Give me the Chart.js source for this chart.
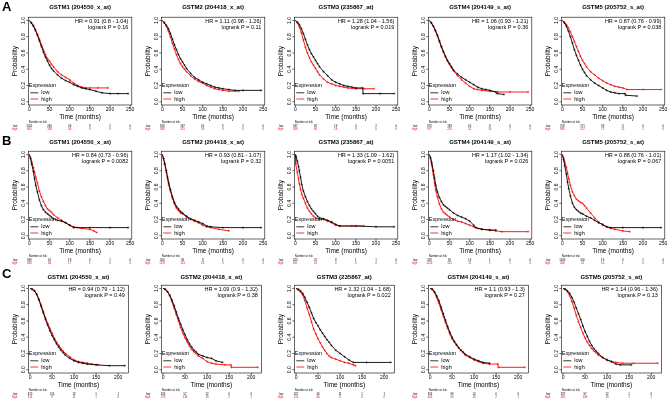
<!DOCTYPE html>
<html>
<head>
<meta charset="utf-8">
<script src="https://cdn.jsdelivr.net/npm/chart.js@4.4.0/dist/chart.umd.min.js"></script>
<style>
  body { margin: 0; background: #fff; }
  #wrap { position: relative; width: 670px; height: 401px; overflow: hidden; }
  .panel { position: absolute; width: 137px; height: 132px; }
  .tag { position: absolute; font: bold 13px "Liberation Sans", Arial, sans-serif; line-height: 13px; z-index: 2; }
</style>
</head>
<body>
<div id="wrap">
  <div class="tag" style="left:2px;top:0px">A</div>
  <div class="tag" style="left:2px;top:134px">B</div>
  <div class="tag" style="left:2px;top:267px">C</div>
</div>
<script>
// Titles / stats
const genes = ["GSTM1 (204550_x_at)", "GSTM2 (204418_x_at)", "GSTM3 (235867_at)", "GSTM4 (204149_s_at)", "GSTM5 (205752_s_at)"];
const hrA = ["HR = 0.91 (0.8 - 1.04)", "HR = 1.11 (0.98 - 1.26)", "HR = 1.28 (1.04 - 1.56)", "HR = 1.06 (0.93 - 1.21)", "HR = 0.87 (0.76 - 0.99)"];
const pA = ["logrank P = 0.16", "logrank P = 0.11", "logrank P = 0.019", "logrank P = 0.36", "logrank P = 0.038"];
const hrB = ["HR = 0.84 (0.73 - 0.96)", "HR = 0.93 (0.81 - 1.07)", "HR = 1.33 (1.09 - 1.62)", "HR = 1.17 (1.02 - 1.34)", "HR = 0.88 (0.76 - 1.01)"];
const pB = ["logrank P = 0.0082", "logrank P = 0.32", "logrank P = 0.0051", "logrank P = 0.026", "logrank P = 0.067"];
const hrC = ["HR = 0.94 (0.79 - 1.12)", "HR = 1.09 (0.9 - 1.32)", "HR = 1.32 (1.04 - 1.68)", "HR = 1.1 (0.93 - 1.3)", "HR = 1.14 (0.96 - 1.36)"];
const pC = ["logrank P = 0.49", "logrank P = 0.38", "logrank P = 0.022", "logrank P = 0.27", "logrank P = 0.13"];

// Ticks
const xTicksAB = [0, 50, 100, 150, 200, 250];
const xTicksC = [0, 50, 100, 150, 200];
const yTicks = [0, 0.2, 0.4, 0.6, 0.8, 1.0];

// Number at risk
const riskLowA = [[1051, 240, 49, 9, 2, 0], [818, 187, 41, 9, 2, 0], [347, 82, 19, 4, 2, 0], [679, 183, 45, 8, 0, 0], [758, 171, 33, 3, 0, 0]];
const riskHighA = [[605, 188, 48, 9, 0, 0], [838, 231, 56, 9, 0, 0], [308, 60, 29, 3, 0, 0], [977, 235, 52, 10, 2, 0], [898, 257, 75, 15, 2, 0]];
const riskLowB = [[949, 61, 18, 3, 1, 0], [300, 39, 8, 1, 0, 0], [423, 31, 8, 1, 1, 0], [318, 65, 13, 1, 0, 0], [1269, 100, 19, 3, 1, 0]];
const riskHighB = [[588, 86, 17, 1, 0, 0], [1237, 123, 23, 3, 1, 0], [161, 16, 4, 0, 0, 0], [1219, 121, 11, 1, 1, 0], [268, 51, 10, 1, 0, 0]];
const riskLowC = [[470, 116, 19, 1, 1], [209, 57, 12, 0, 0], [167, 46, 11, 1, 1], [356, 99, 14, 0, 0], [297, 97, 12, 1, 0]];
const riskHighC = [[311, 77, 11, 1, 0], [573, 136, 18, 2, 1], [215, 46, 8, 0, 0], [426, 94, 16, 2, 1], [485, 106, 18, 1, 1]];

// Survival curves [months, probability]
const lowA1 = [[0,1],[5,.97],[10,.93],[15,.88],[20,.82],[25,.75],[30,.68],[35,.61],[40,.55],[45,.5],[50,.45],[55,.41],[60,.38],[70,.33],[80,.29],[90,.26],[100,.24],[110,.21],[120,.19],[130,.17],[140,.16],[150,.15],[165,.13],[180,.11],[200,.1],[220,.1],[245,.1]];
const highA1 = [[0,1],[5,.97],[10,.94],[15,.89],[20,.83],[25,.77],[30,.7],[35,.64],[40,.58],[45,.53],[50,.5],[55,.46],[60,.43],[70,.37],[80,.33],[90,.3],[100,.27],[110,.23],[120,.2],[130,.18],[140,.17],[150,.17],[170,.17],[195,.17]];
const lowA2 = [[0,1],[5,.97],[10,.94],[15,.9],[20,.84],[25,.77],[30,.7],[35,.64],[40,.58],[45,.53],[50,.49],[55,.45],[60,.41],[70,.35],[80,.3],[90,.27],[100,.24],[110,.22],[120,.2],[130,.18],[140,.17],[150,.16],[165,.15],[180,.14],[200,.14],[245,.14]];
const highA2 = [[0,1],[5,.97],[10,.93],[15,.87],[20,.8],[25,.72],[30,.65],[35,.58],[40,.52],[45,.47],[50,.43],[55,.4],[60,.37],[70,.32],[80,.28],[90,.25],[100,.23],[110,.2],[120,.18],[130,.16],[140,.15],[150,.14],[165,.13],[190,.13]];
const lowA3 = [[0,1],[5,.98],[10,.95],[15,.9],[20,.84],[25,.77],[30,.7],[35,.64],[40,.59],[45,.55],[50,.51],[55,.47],[60,.43],[70,.37],[80,.32],[90,.27],[100,.24],[110,.22],[120,.2],[130,.19],[140,.18],[150,.17],[167,.17],[168,.1],[210,.1],[245,.1]];
const highA3 = [[0,1],[5,.97],[10,.92],[15,.85],[20,.76],[25,.67],[30,.6],[35,.54],[40,.49],[45,.45],[50,.41],[55,.37],[60,.33],[70,.28],[80,.24],[90,.22],[100,.2],[110,.19],[120,.18],[130,.17],[150,.16],[170,.16],[195,.16]];
const lowA4 = [[0,1],[5,.97],[10,.93],[15,.88],[20,.82],[25,.75],[30,.68],[35,.62],[40,.56],[45,.51],[50,.47],[55,.43],[60,.39],[70,.34],[80,.3],[90,.27],[100,.24],[110,.21],[120,.18],[130,.16],[140,.15],[150,.14],[165,.12],[168,.1],[185,.09]];
const highA4 = [[0,1],[5,.97],[10,.93],[15,.87],[20,.81],[25,.74],[30,.67],[35,.61],[40,.55],[45,.5],[50,.46],[55,.42],[60,.38],[70,.32],[80,.27],[90,.23],[100,.19],[110,.16],[120,.15],[130,.14],[150,.13],[170,.12],[200,.12],[245,.12]];
const lowA5 = [[0,1],[5,.97],[10,.93],[15,.87],[20,.8],[25,.72],[30,.64],[35,.57],[40,.51],[45,.45],[50,.4],[55,.36],[60,.32],[70,.27],[80,.23],[90,.2],[100,.17],[110,.14],[120,.12],[130,.11],[140,.1],[155,.1],[157,.08],[185,.07]];
const highA5 = [[0,1],[5,.98],[10,.95],[15,.91],[20,.86],[25,.8],[30,.74],[35,.68],[40,.62],[45,.56],[50,.51],[55,.47],[60,.43],[70,.37],[80,.33],[90,.29],[100,.26],[110,.23],[120,.21],[130,.19],[140,.18],[150,.17],[160,.15],[200,.15],[245,.15]];

const lowB1 = [[0,1],[3,.95],[6,.88],[10,.79],[13,.7],[16,.62],[20,.54],[25,.44],[30,.37],[35,.32],[40,.29],[45,.27],[50,.25],[55,.23],[60,.21],[70,.19],[80,.18],[90,.16],[100,.13],[110,.1],[150,.1],[200,.1],[245,.1]];
const highB1 = [[0,1],[3,.96],[6,.91],[10,.84],[13,.78],[16,.72],[20,.65],[25,.55],[30,.48],[35,.42],[40,.37],[45,.33],[50,.31],[55,.29],[60,.26],[70,.22],[80,.19],[90,.16],[100,.13],[110,.11],[120,.1],[130,.09],[150,.08],[160,.06],[167,.04]];
const lowB2 = [[0,1],[3,.95],[6,.89],[10,.8],[13,.72],[16,.65],[20,.57],[25,.48],[30,.41],[35,.36],[40,.33],[45,.3],[50,.28],[60,.24],[70,.21],[80,.19],[90,.17],[100,.15],[110,.12],[120,.11],[150,.1],[200,.1],[245,.1]];
const highB2 = [[0,1],[3,.95],[6,.88],[10,.78],[13,.7],[16,.62],[20,.55],[25,.46],[30,.39],[35,.34],[40,.31],[45,.28],[50,.27],[60,.23],[70,.2],[80,.18],[90,.16],[100,.13],[110,.11],[120,.1],[140,.08],[165,.06]];
const lowB3 = [[0,1],[2,.97],[5,.92],[8,.85],[10,.8],[13,.72],[16,.63],[20,.55],[25,.48],[30,.42],[35,.37],[40,.33],[45,.3],[50,.27],[55,.24],[60,.22],[70,.21],[80,.19],[90,.17],[100,.14],[110,.12],[150,.12],[200,.11],[245,.11]];
const highB3 = [[0,1],[1,.88],[5,.78],[8,.7],[10,.64],[13,.57],[16,.51],[20,.46],[25,.4],[30,.34],[35,.3],[40,.27],[45,.24],[50,.22],[60,.2],[70,.2],[80,.18],[90,.16],[100,.13],[110,.12],[140,.12],[170,.12]];
const lowB4 = [[0,1],[3,.96],[6,.9],[10,.8],[13,.71],[16,.62],[20,.54],[25,.47],[30,.42],[35,.38],[40,.36],[45,.34],[50,.32],[60,.28],[70,.25],[80,.23],[90,.21],[100,.18],[110,.13],[115,.1],[130,.08],[150,.07],[165,.07]];
const highB4 = [[0,1],[3,.95],[6,.87],[10,.75],[13,.65],[16,.56],[20,.48],[25,.39],[30,.33],[35,.29],[40,.27],[45,.25],[50,.23],[60,.2],[70,.18],[80,.17],[90,.15],[100,.13],[110,.11],[120,.09],[130,.08],[150,.07],[165,.06],[180,.05],[245,.05]];
const lowB5 = [[0,1],[3,.94],[6,.86],[10,.76],[13,.66],[16,.58],[20,.49],[25,.4],[30,.35],[35,.32],[40,.3],[45,.28],[50,.27],[60,.24],[70,.22],[80,.19],[90,.16],[100,.14],[110,.11],[120,.1],[150,.1],[200,.1],[245,.1]];
const highB5 = [[0,1],[3,.96],[6,.91],[10,.84],[13,.77],[16,.7],[20,.62],[25,.54],[30,.49],[35,.45],[40,.43],[45,.41],[50,.4],[55,.37],[60,.34],[70,.28],[80,.22],[90,.17],[100,.13],[110,.11],[120,.09],[130,.08],[150,.06],[167,.05]];

const lowC1 = [[0,1],[5,.99],[10,.97],[15,.93],[20,.86],[25,.78],[30,.7],[35,.62],[40,.55],[45,.48],[50,.42],[55,.37],[60,.32],[65,.28],[70,.24],[75,.21],[80,.18],[90,.14],[100,.11],[110,.09],[120,.08],[130,.07],[150,.06],[180,.05],[215,.05]];
const highC1 = [[0,1],[5,.99],[10,.97],[15,.93],[20,.87],[25,.8],[30,.72],[35,.64],[40,.57],[45,.51],[50,.45],[55,.39],[60,.34],[65,.3],[70,.26],[75,.23],[80,.2],[90,.16],[100,.12],[110,.1],[120,.09],[130,.08],[140,.07],[155,.06]];
const lowC2 = [[0,1],[5,.99],[10,.96],[15,.92],[20,.86],[25,.79],[30,.71],[35,.63],[40,.56],[45,.49],[50,.43],[55,.37],[60,.32],[65,.28],[70,.24],[75,.22],[80,.19],[90,.17],[100,.15],[110,.14],[120,.11],[135,.09]];
const highC2 = [[0,1],[5,.99],[10,.96],[15,.91],[20,.84],[25,.76],[30,.68],[35,.6],[40,.52],[45,.45],[50,.39],[55,.34],[60,.29],[65,.25],[70,.22],[75,.2],[80,.17],[90,.14],[100,.1],[110,.08],[120,.07],[140,.06],[154,.06],[155,.03],[215,.03]];
const lowC3 = [[0,1],[5,.99],[10,.97],[15,.94],[20,.89],[25,.83],[30,.77],[35,.7],[40,.63],[45,.58],[50,.54],[55,.49],[60,.45],[65,.41],[70,.37],[75,.34],[80,.3],[90,.24],[100,.2],[110,.16],[120,.12],[130,.09],[160,.09],[215,.09]];
const highC3 = [[0,1],[5,.98],[10,.96],[15,.92],[20,.85],[25,.76],[30,.68],[35,.59],[40,.5],[45,.44],[50,.38],[55,.33],[60,.28],[65,.24],[70,.2],[75,.17],[80,.15],[90,.13],[100,.11],[110,.09],[120,.08],[130,.06],[135,.05]];
const lowC4 = [[0,1],[5,.99],[10,.96],[15,.91],[20,.85],[25,.77],[30,.69],[35,.61],[40,.53],[45,.46],[50,.4],[55,.35],[60,.31],[65,.27],[70,.24],[75,.22],[80,.19],[90,.16],[100,.13],[110,.11],[120,.09],[135,.08]];
const highC4 = [[0,1],[5,.99],[10,.95],[15,.89],[20,.82],[25,.74],[30,.66],[35,.58],[40,.51],[45,.44],[50,.38],[55,.34],[60,.3],[65,.27],[70,.24],[75,.21],[80,.18],[90,.15],[100,.12],[110,.1],[120,.08],[135,.07],[154,.07],[155,.03],[215,.03]];
const lowC5 = [[0,1],[5,.99],[10,.97],[15,.94],[20,.89],[25,.83],[30,.76],[35,.69],[40,.62],[45,.54],[50,.47],[55,.41],[60,.35],[65,.3],[70,.26],[75,.23],[80,.2],[90,.15],[100,.12],[110,.1],[120,.07],[130,.06],[155,.06]];
const highC5 = [[0,1],[5,.99],[10,.96],[15,.91],[20,.84],[25,.76],[30,.67],[35,.59],[40,.52],[45,.45],[50,.39],[55,.34],[60,.3],[65,.26],[70,.23],[75,.21],[80,.18],[90,.15],[100,.12],[110,.1],[120,.09],[135,.08],[160,.08],[215,.08]];

const FONT = '"Liberation Sans", Arial, sans-serif';
const colLeft = [0, 133, 266, 400, 533];

const rows = [
  { top: 0,   titlePad: [3.3, 6.7], xMin: -2.5, xMax: 254, boxW: 103.5, xTicks: xTicksAB, hr: hrA, p: pA, rl: riskLowA, rh: riskHighA,
    curves: [[lowA1, highA1], [lowA2, highA2], [lowA3, highA3], [lowA4, highA4], [lowA5, highA5]] },
  { top: 134, titlePad: [5.0, 5.0], xMin: -2.5, xMax: 254, boxW: 103.5, xTicks: xTicksAB, hr: hrB, p: pB, rl: riskLowB, rh: riskHighB,
    curves: [[lowB1, highB1], [lowB2, highB2], [lowB3, highB3], [lowB4, highB4], [lowB5, highB5]] },
  { top: 268, titlePad: [5.8, 4.2], xMin: -4, xMax: 223, boxW: 100, xTicks: xTicksC, hr: hrC, p: pC, rl: riskLowC, rh: riskHighC,
    curves: [[lowC1, highC1], [lowC2, highC2], [lowC3, highC3], [lowC4, highC4], [lowC5, highC5]] }
];

// draws the R-style box, axes, stats text, legend and risk table
const kmDecor = {
  id: 'kmDecor',
  afterDraw(chart, args, o) {
    const { ctx, chartArea: a, scales: { x, y } } = chart;
    ctx.save();
    ctx.strokeStyle = '#000';
    ctx.fillStyle = '#000';
    ctx.lineWidth = 0.6;
    ctx.strokeRect(a.left, a.top, a.right - a.left, a.bottom - a.top);

    // x axis
    ctx.font = '5px ' + FONT;
    ctx.textAlign = 'center';
    ctx.textBaseline = 'middle';
    o.xTicks.forEach(v => {
      const px = x.getPixelForValue(v);
      ctx.beginPath(); ctx.moveTo(px, a.bottom); ctx.lineTo(px, a.bottom + 2); ctx.stroke();
      ctx.fillText(String(v), px, 109.5);
    });
    // y axis, labels rotated like R
    yTicks.forEach(v => {
      const py = y.getPixelForValue(v);
      ctx.beginPath(); ctx.moveTo(a.left - 2, py); ctx.lineTo(a.left, py); ctx.stroke();
      ctx.save();
      ctx.translate(a.left - 5, py);
      ctx.rotate(-Math.PI / 2);
      ctx.fillText(v.toFixed(1), 0, 0);
      ctx.restore();
    });
    ctx.font = '6.5px ' + FONT;
    ctx.fillText('Time (months)', (a.left + a.right) / 2, 117.5);
    ctx.save();
    ctx.translate(a.left - 13, (a.top + a.bottom) / 2);
    ctx.rotate(-Math.PI / 2);
    ctx.fillText('Probability', 0, 0);
    ctx.restore();

    // HR + logrank
    ctx.font = '5.5px ' + FONT;
    ctx.textAlign = 'right';
    ctx.fillText(o.hr, a.right - 3.5, a.top + 4);
    ctx.fillText(o.p, a.right - 3.5, a.top + 10);

    // legend
    ctx.textAlign = 'left';
    ctx.fillText('Expression', a.left + 0.5, a.bottom - 19.3);
    [['low', '#000', 12.2], ['high', '#ff0000', 6]].forEach(([t, c, d]) => {
      ctx.strokeStyle = c;
      ctx.lineWidth = 0.8;
      ctx.beginPath(); ctx.moveTo(a.left + 2, a.bottom - d); ctx.lineTo(a.left + 10, a.bottom - d); ctx.stroke();
      ctx.fillStyle = '#000';
      ctx.fillText(t, a.left + 13, a.bottom - d);
    });

    // number at risk
    ctx.font = '2.8px ' + FONT;
    ctx.fillStyle = '#000';
    ctx.fillText('Number at risk', a.left + 0.5, 122);
    ctx.textAlign = 'right';
    ctx.fillText('low', a.left - 11, 126);
    ctx.fillStyle = '#ff0000';
    ctx.fillText('high', a.left - 11, 129.5);
    ctx.textAlign = 'center';
    o.xTicks.forEach((v, i) => {
      const px = x.getPixelForValue(v);
      ctx.fillStyle = '#000';
      ctx.fillText(String(o.low[i]), px, 126);
      ctx.fillStyle = '#ff0000';
      ctx.fillText(String(o.high[i]), px, 129.5);
    });
    ctx.restore();
  }
};

function curve(pts, color) {
  return {
    data: pts.map(p => ({ x: p[0], y: p[1] })),
    borderColor: color,
    backgroundColor: color,
    borderWidth: 0.9,
    tension: 0,
    fill: false,
    pointStyle: 'cross',
    pointRadius: c => (c.dataIndex === 0 ? 0 : 1.2),
    pointBorderColor: color,
    pointBorderWidth: 0.5
  };
}

const wrap = document.getElementById('wrap');
rows.forEach(r => {
  genes.forEach((g, i) => {
    const div = document.createElement('div');
    div.className = 'panel';
    div.style.left = colLeft[i] + 'px';
    div.style.top = r.top + 'px';
    const cv = document.createElement('canvas');
    cv.width = 137; cv.height = 132;
    div.appendChild(cv);
    wrap.appendChild(div);

    new Chart(cv, {
      type: 'line',
      data: { datasets: [curve(r.curves[i][0], '#000000'), curve(r.curves[i][1], '#ff0000')] },
      options: {
        responsive: false,
        animation: false,
        events: [],
        layout: { padding: { left: 28.3, right: 137 - 28.3 - r.boxW, top: 0, bottom: 132 - 105 } },
        scales: {
          x: { type: 'linear', display: false, min: r.xMin, max: r.xMax },
          y: { type: 'linear', display: false, min: -0.04, max: 1.04 }
        },
        plugins: {
          legend: { display: false },
          tooltip: { enabled: false },
          title: {
            display: true, text: g, color: '#000',
            font: { family: FONT, size: 6, weight: 'bold', lineHeight: 1.2 },
            padding: { top: r.titlePad[0], bottom: r.titlePad[1] }
          },
          kmDecor: { xTicks: r.xTicks, hr: r.hr[i], p: r.p[i], low: r.rl[i], high: r.rh[i] }
        }
      },
      plugins: [kmDecor]
    });
  });
});
</script>
</body>
</html>
